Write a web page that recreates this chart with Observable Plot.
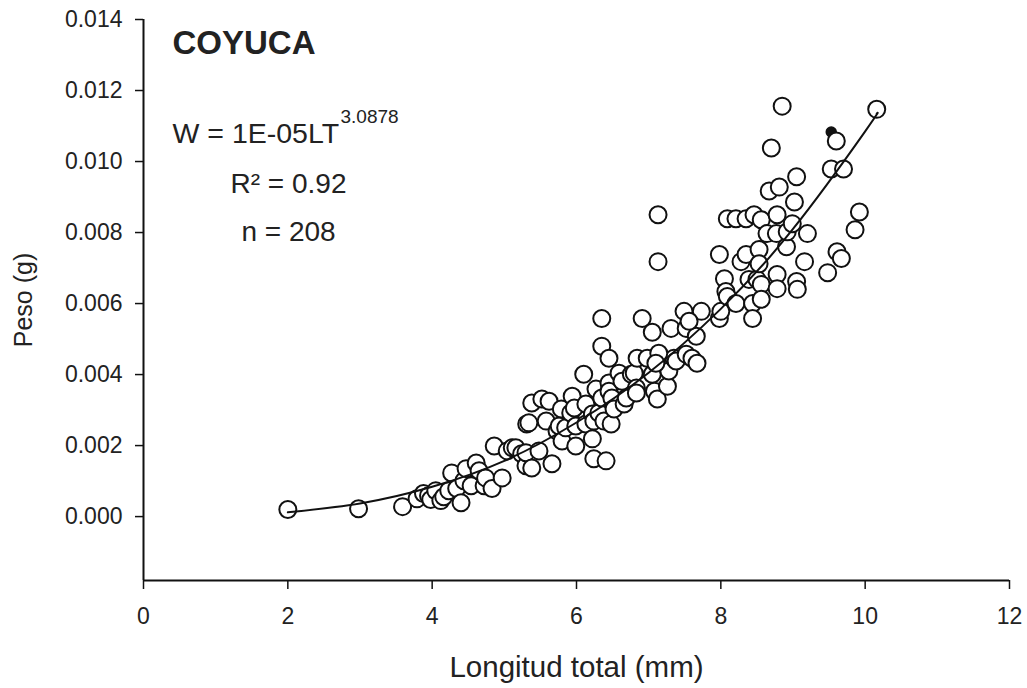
<!DOCTYPE html>
<html>
<head>
<meta charset="utf-8">
<script src="https://cdn.jsdelivr.net/npm/d3@7"></script>
<script src="https://cdn.jsdelivr.net/npm/@observablehq/plot@0.6"></script>
<style>
  html, body { margin: 0; padding: 0; background: #fff; }
  #chart svg { display: block; }
</style>
</head>
<body>
<div id="chart"></div>
<script>
// Longitud total (mm) of each observation
const longitud = [
  2.00, 2.98, 3.59, 3.79, 3.88, 3.95, 3.98, 4.05, 4.12, 4.16, 4.23, 4.27, 4.34, 4.40, 4.44, 4.47,
  4.54, 4.61, 4.65, 4.72, 4.74, 4.83, 4.86, 4.97, 5.04, 5.11, 5.16, 5.24, 5.30, 5.30, 5.31, 5.48,
  5.38, 5.66,
  5.34, 5.38, 5.52, 5.62, 5.58, 5.73, 5.76, 5.79, 5.80, 5.85, 5.92, 5.94, 5.97, 5.99, 5.99, 6.10,
  6.13, 6.13, 6.22, 6.22, 6.24, 6.24, 6.27, 6.31, 6.35, 6.38, 6.41, 6.45, 6.45, 6.48, 6.49, 6.52,
  6.59, 6.63, 6.66, 6.69, 6.76, 6.80, 6.83, 6.83, 7.05, 7.08, 7.12, 7.26, 7.28, 7.35, 6.35, 6.35,
  6.45, 6.91, 7.05, 7.31, 7.49, 7.52, 7.66, 7.73, 7.98, 6.84, 6.98, 7.14, 7.38, 7.52, 7.60, 7.67,
  7.10, 7.56,
  7.13, 7.13, 7.98, 8.00, 8.05, 8.07, 8.09, 8.09, 8.21, 8.21, 8.28, 8.35, 8.35, 8.39, 8.44, 8.44,
  8.46, 8.50, 8.53, 8.53, 8.56, 8.56, 8.56, 8.64, 8.67, 8.70, 8.81, 8.78, 8.77, 8.78, 8.78, 8.85,
  8.91, 8.92, 8.99, 9.02, 9.05, 9.05, 9.06, 9.16, 9.20, 9.60, 9.53, 9.70, 9.86, 9.92, 9.61, 9.67,
  9.48, 10.16
];
// Peso (g) of each observation
const peso = [
  0.00020, 0.00022, 0.00028, 0.00050, 0.00065, 0.00059, 0.00048, 0.00073, 0.00045, 0.00056, 0.00073, 0.00123, 0.00079, 0.00039, 0.00101, 0.00135,
  0.00087, 0.00151, 0.00129, 0.00087, 0.00109, 0.00079, 0.00199, 0.00109, 0.00185, 0.00194, 0.00194, 0.00177, 0.00143, 0.00180, 0.00261, 0.00185,
  0.00137, 0.00149,
  0.00264, 0.00320, 0.00331, 0.00325, 0.00269, 0.00241, 0.00255, 0.00303, 0.00213, 0.00250, 0.00292, 0.00339, 0.00306, 0.00255, 0.00199, 0.00401,
  0.00317, 0.00261, 0.00219, 0.00289, 0.00269, 0.00163, 0.00359, 0.00292, 0.00334, 0.00269, 0.00157, 0.00376, 0.00353, 0.00261, 0.00334, 0.00303,
  0.00404, 0.00381, 0.00317, 0.00334, 0.00401, 0.00404, 0.00362, 0.00348, 0.00401, 0.00353, 0.00331, 0.00367, 0.00410, 0.00446, 0.00558, 0.00480,
  0.00446, 0.00558, 0.00519, 0.00530, 0.00578, 0.00530, 0.00508, 0.00578, 0.00558, 0.00446, 0.00446, 0.00460, 0.00438, 0.00457, 0.00446, 0.00432,
  0.00432, 0.00550,
  0.00850, 0.00718, 0.00738, 0.00578, 0.00670, 0.00634, 0.00620, 0.00839, 0.00839, 0.00600, 0.00718, 0.00839, 0.00738, 0.00668, 0.00600, 0.00558,
  0.00850, 0.00668, 0.00752, 0.00712, 0.00836, 0.00654, 0.00612, 0.00797, 0.00917, 0.01038, 0.00928, 0.00850, 0.00797, 0.00682, 0.00642, 0.01156,
  0.00760, 0.00802, 0.00825, 0.00886, 0.00957, 0.00662, 0.00640, 0.00718, 0.00797, 0.01058, 0.00979, 0.00979, 0.00808, 0.00858, 0.00746, 0.00727,
  0.00687, 0.01147
];
// the one solid (filled) point
const solidLongitud = [9.53];
const solidPeso = [0.01083];

// fitted potential curve
const curvaLongitud = [2, 3, 4, 5, 6, 7, 8, 9, 10, 10.16];
const curvaPeso = [0.00012, 0.00037, 0.00084, 0.00157, 0.00265, 0.00405, 0.00585, 0.00810, 0.01085, 0.01135];

// axis ticks
const xTicks = [0, 2, 4, 6, 8, 10, 12];
const yTicks = [0, 0.002, 0.004, 0.006, 0.008, 0.010, 0.012, 0.014];

const points = longitud.map((L, i) => ({L, W: peso[i]}));
const solid = solidLongitud.map((L, i) => ({L, W: solidPeso[i]}));
const curve = curvaLongitud.map((L, i) => ({L, W: curvaPeso[i]}));

const font = "'Liberation Sans', Arial, Helvetica, sans-serif";
const yMin = -0.0018;

const chart = Plot.plot({
  width: 1027,
  height: 688,
  marginLeft: 143,
  marginRight: 18,
  marginTop: 19,
  marginBottom: 108,
  style: {fontFamily: font, background: "#fff", color: "#222"},
  x: {domain: [0, 12]},
  y: {domain: [yMin, 0.014]},
  marks: [
    Plot.axisX({ticks: xTicks, tickSize: 9, tickPadding: 18, fontSize: 23, label: null, stroke: "#111", strokeWidth: 1.5, fill: "#222"}),
    Plot.axisY({ticks: yTicks, tickSize: 8, tickPadding: 13, fontSize: 23, label: null, tickFormat: d3.format(".3f"), stroke: "#111", strokeWidth: 1.5, fill: "#222"}),
    Plot.ruleX([0], {stroke: "#111", strokeWidth: 2}),
    Plot.ruleY([yMin], {stroke: "#111", strokeWidth: 2}),
    Plot.dot(solid, {x: "L", y: "W", r: 5, fill: "#111", stroke: "#111"}),
    Plot.dot(points, {x: "L", y: "W", r: 8.5, fill: "white", stroke: "#111", strokeWidth: 2}),
    Plot.line(curve, {x: "L", y: "W", curve: "natural", stroke: "#111", strokeWidth: 2}),
    Plot.text(["COYUCA"], {frameAnchor: "top-left", dx: 29, dy: 34, lineAnchor: "bottom", textAnchor: "start", fontSize: 33, fontWeight: "bold", fill: "#222"}),
    Plot.text(["W = 1E-05LT"], {frameAnchor: "top-left", dx: 29, dy: 123, lineAnchor: "bottom", textAnchor: "start", fontSize: 28.5, fill: "#222"}),
    Plot.text(["3.0878"], {frameAnchor: "top-left", dx: 197, dy: 103, lineAnchor: "bottom", textAnchor: "start", fontSize: 19, fill: "#222"}),
    Plot.text(["R² = 0.92"], {frameAnchor: "top-left", dx: 145, dy: 173, lineAnchor: "bottom", textAnchor: "middle", fontSize: 28, fill: "#222"}),
    Plot.text(["n = 208"], {frameAnchor: "top-left", dx: 145, dy: 221, lineAnchor: "bottom", textAnchor: "middle", fontSize: 28, fill: "#222"}),
    Plot.text(["Longitud total (mm)"], {frameAnchor: "bottom", dy: 96, lineAnchor: "bottom", textAnchor: "middle", fontSize: 29.5, fill: "#222"}),
    Plot.text(["Peso (g)"], {frameAnchor: "left", dx: -112, rotate: -90, lineAnchor: "bottom", textAnchor: "middle", fontSize: 25, fill: "#222"})
  ]
});
document.getElementById("chart").appendChild(chart);
</script>
</body>
</html>
